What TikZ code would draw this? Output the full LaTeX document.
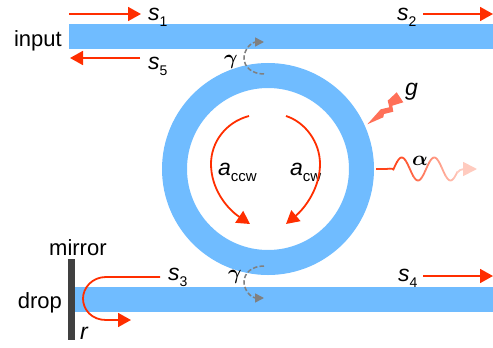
\documentclass[tikz,border=0pt]{standalone}
\usepackage{fontspec}
\setmainfont{Liberation Sans}
\usetikzlibrary{arrows.meta, positioning}
\definecolor{GuideBlue}{HTML}{70BCFF}
\definecolor{SignalRed}{HTML}{FF2E00}
\definecolor{BoltRed}{HTML}{FF7058}
\definecolor{CoupleGray}{HTML}{808080}
\definecolor{MirrorDark}{HTML}{404040}
\newcommand{\symb}[2]{\textit{#1}\raisebox{-0.3em}{\fontsize{14}{14}\selectfont #2}}

\begin{document}
\begin{tikzpicture}[
    x=1pt, y=-1pt,
    font=\fontsize{22}{24}\selectfont,
    guide/.style={fill=GuideBlue, draw=none, inner sep=0pt, minimum height=25pt, anchor=north west},
    mirrorbar/.style={fill=MirrorDark, draw=none, inner sep=0pt, minimum width=7pt, minimum height=81pt, anchor=north west},
    label/.style={inner sep=0pt, anchor=base west},
    sym/.style={label, font=\fontsize{23}{24}\selectfont},
    greek/.style={label, font=\fontsize{20.74}{24}\selectfont\boldmath},
    flow/.style={-{Triangle[length=13pt,width=14pt]}, line width=1.8pt, SignalRed},
    couple/.style={-{Triangle[length=9pt,width=9pt]}, line width=1.5pt, CoupleGray, dash pattern=on 4.5pt off 2.2pt},
]
\useasboundingbox (0,0) rectangle (493,348);

% ring and waveguides
\draw[GuideBlue, line width=25pt] (268,169) circle (93.5pt);
\node[guide, minimum width=424pt] (bus) at (69,24) {};
\node[guide, minimum width=419pt] (dropbus) at (74,287) {};
\node[mirrorbar] (mirror) at (68,259) {};

% port labels
\node[label, anchor=base east] (input) at (62,46) {input};
\node[label, anchor=base east] (drop) at (62,308) {drop};
\node[label] (mirrortxt) at (49,255) {mirror};

% signal labels
\node[sym] (s1) at (148,20) {\symb{s}{1}};
\node[sym] (s2) at (397,20) {\symb{s}{2}};
\node[sym] (s3) at (168,280) {\symb{s}{3}};
\node[sym] (s4) at (398,281) {\symb{s}{4}};
\node[sym] (s5) at (148,69) {\symb{s}{5}};
\node[sym] (r) at (80,339) {\textit{r}};
\node[sym] (g) at (405,95) {\textit{g}};
\node[greek] (gam1) at (224,64) {$\gamma$};
\node[greek] (gam2) at (228,279) {$\gamma$};
\node[sym] (acc) at (218,175) {\textit{a}\raisebox{-0.3em}{\fontsize{15}{15}\selectfont ccw}};
\node[sym] (acw) at (290,175) {\textit{a}\raisebox{-0.3em}{\fontsize{15}{15}\selectfont cw}};
\node[greek] (alp) at (412,165) {$\alpha$};

% end points of the arrows
\coordinate (s1a) at (69,14);   \coordinate (s1b) at (141,14);
\coordinate (s2a) at (423,14);  \coordinate (s2b) at (493,14);
\coordinate (s4a) at (423,276); \coordinate (s4b) at (493,276);
\coordinate (s5a) at (140,58);  \coordinate (s5b) at (70,58);
\coordinate (s3a) at (160,277); \coordinate (s3b) at (131,320);
\coordinate (gamt) at (264,74); \coordinate (gamh) at (264,42);
\coordinate (gamb) at (264,266); \coordinate (gamc) at (264,298);
\coordinate (acca) at (249,116); \coordinate (accb) at (250,224);
\coordinate (acwa) at (286,116); \coordinate (acwb) at (286,224);

% flows
\draw[flow] (s1a) -- (s1b);
\draw[flow] (s2a) -- (s2b);
\draw[flow] (s4a) -- (s4b);
\draw[flow] (s5a) -- (s5b);
\draw[flow] (s3a) -- (106,277) .. controls (92,277) and (83,288) .. (83,298.5)
    .. controls (83,310) and (92,320) .. (106,320) -- (s3b);
\draw[flow] (acca) .. controls (226,122) and (211,142) .. (211,164)
    .. controls (211,188) and (226,208) .. (accb);
\draw[flow] (acwa) .. controls (305,122) and (320,142) .. (320,164)
    .. controls (320,188) and (305,208) .. (acwb);

% coupling
\draw[couple] (gamt) .. controls (252,74) and (244,67) .. (244,58)
    .. controls (244,49) and (252,42) .. (gamh);
\draw[couple] (gamb) .. controls (252,266) and (244,273) .. (244,282)
    .. controls (244,291) and (252,298) .. (gamc);

% gain bolt
\fill[BoltRed] (367.3,124.3) -- (380.7,109.3) -- (389.3,107.3) -- (387.7,100.7) -- (396.7,92.3)
    -- (403.3,102.3) -- (392.3,105.7) -- (393.3,111.7) -- (384,114) -- (383.3,117.3) -- cycle;

% loss wave
\draw[line width=1.8pt, SignalRed!90] (376,169) -- (386,169) .. controls (389,169) and (391,168) .. (393.6,169);
\foreach \xa/\sh in {393/88,397/85,401/82,405/78,409/74,413/70,417/66,421/62,425/58,429/54,433/50,437/46,441/42,445/38,449/34,453/30}
    \draw[line width=1.8pt, SignalRed!\sh, domain=\xa:\xa+4.3, samples=6, smooth]
        plot (\x, {169-11.5*sin((\x-393.6)*11.077)});
\draw[-{Triangle[length=14pt,width=14pt]}, line width=1.8pt, SignalRed!25] (457,172.8) .. controls (459,170.5) and (461,169) .. (464,169) -- (477,169);
\end{tikzpicture}
\end{document}
